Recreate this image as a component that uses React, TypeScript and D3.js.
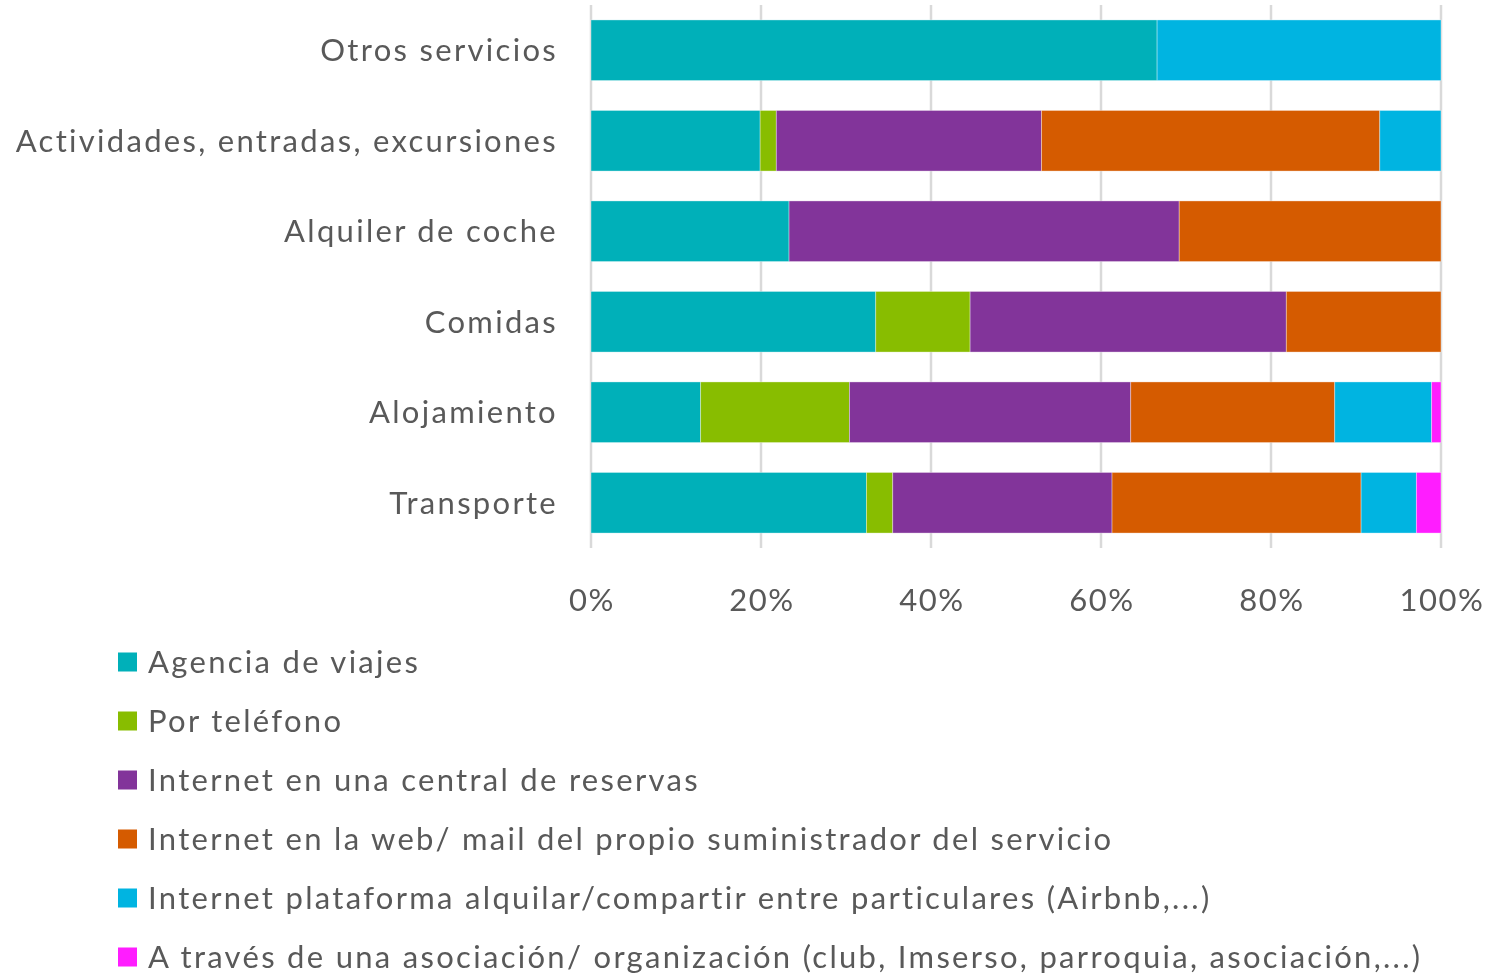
import React, { useEffect, useRef } from "react";
import * as d3 from "d3";

const categories = [
  "Otros servicios",
  "Actividades, entradas, excursiones",
  "Alquiler de coche",
  "Comidas",
  "Alojamiento",
  "Transporte",
];

const seriesNames = [
  "Agencia de viajes",
  "Por teléfono",
  "Internet en una central de reservas",
  "Internet en la web/ mail del propio suministrador del servicio",
  "Internet plataforma alquilar/compartir entre particulares (Airbnb,...)",
  "A través de una asociación/ organización (club, Imserso, parroquia, asociación,...)",
];

const seriesColors = ["#00b0b9", "#88bd00", "#82349a", "#d55b00", "#00b4e1", "#ff1dff"];

// one array per series, in category order
const agencia = [66.6, 19.9, 23.3, 33.5, 12.9, 32.4];
const telefono = [0, 1.9, 0, 11.1, 17.5, 3.1];
const central = [0, 31.2, 45.9, 37.2, 33.1, 25.8];
const webPropia = [0, 39.8, 30.8, 18.2, 24.0, 29.3];
const plataforma = [33.4, 7.2, 0, 0, 11.4, 6.5];
const asociacion = [0, 0, 0, 0, 1.1, 2.9];

const tickValues = [0, 20, 40, 60, 80, 100];

const App = () => {
  const ref = useRef<SVGSVGElement | null>(null);

  useEffect(() => {
    draw();
  }, []);

  const draw = () => {
    const width = 1494, height = 976;
    const left = 591, right = 1441, top = 5, bottom = 548;
    const font = "Lato, 'Open Sans', sans-serif";
    const textColor = "#595959";
    const spacing = "2.3px";

    const series = [agencia, telefono, central, webPropia, plataforma, asociacion];
    const rows = categories.map((c, i) => {
      const o: any = { cat: c };
      seriesNames.forEach((s, j) => (o[s] = series[j][i]));
      return o;
    });
    const stacked = d3.stack<any>().keys(seriesNames)(rows);

    const svg = d3.select(ref.current);
    svg.selectAll("*").remove();
    svg.attr("width", width).attr("height", height);

    const x = d3.scaleLinear().domain([0, 100]).range([left, right]);
    const y = d3.scaleBand<string>()
      .domain(categories)
      .range([top, bottom])
      .paddingInner(0.33)
      .paddingOuter(0.165);

    // gridlines
    svg.append("g")
      .selectAll("line")
      .data(tickValues)
      .join("line")
      .attr("x1", d => x(d))
      .attr("x2", d => x(d))
      .attr("y1", top)
      .attr("y2", bottom)
      .attr("stroke", "#d9d9d9")
      .attr("stroke-width", 2.5);

    // bars
    svg.append("g")
      .selectAll("g")
      .data(stacked)
      .join("g")
      .attr("fill", (d, i) => seriesColors[i])
      .selectAll("rect")
      .data(d => d.filter(v => v[1] - v[0] > 0))
      .join("rect")
      .attr("x", d => x(d[0]))
      .attr("width", d => x(d[1]) - x(d[0]))
      .attr("y", d => y(d.data.cat)!)
      .attr("height", y.bandwidth())
      .attr("stroke", "rgba(255,255,255,0.45)")
      .attr("stroke-width", 0.8);

    // category labels
    svg.append("g")
      .selectAll("text")
      .data(categories)
      .join("text")
      .attr("x", 558)
      .attr("y", d => y(d)! + y.bandwidth() / 2)
      .attr("dy", "0.35em")
      .attr("text-anchor", "end")
      .style("font-family", font)
      .style("font-size", "31px")
      .style("letter-spacing", spacing)
      .attr("fill", textColor)
      .text(d => d);

    // x tick labels
    svg.append("g")
      .selectAll("text")
      .data(tickValues)
      .join("text")
      .attr("x", d => x(d) + 1)
      .attr("y", 611)
      .attr("text-anchor", "middle")
      .style("font-family", font)
      .style("font-size", "31px")
      .style("letter-spacing", "1.5px")
      .attr("fill", textColor)
      .text(d => d + "%");

    // legend
    const legend = svg.append("g")
      .selectAll("g")
      .data(seriesNames)
      .join("g")
      .attr("transform", (d, i) => `translate(118, ${662 + i * 59})`);

    legend.append("rect")
      .attr("x", 0)
      .attr("y", -9.5)
      .attr("width", 19)
      .attr("height", 19)
      .attr("fill", (d, i) => seriesColors[i]);

    legend.append("text")
      .attr("x", 30)
      .attr("y", 0)
      .attr("dy", "0.35em")
      .style("font-family", font)
      .style("font-size", "31px")
      .style("letter-spacing", spacing)
      .attr("fill", textColor)
      .text(d => d);
  };

  return (
    <svg
      ref={ref}
      style={{ display: "block", position: "fixed", left: 0, top: 0, overflow: "visible" }}
    />
  );
};

export default App;
